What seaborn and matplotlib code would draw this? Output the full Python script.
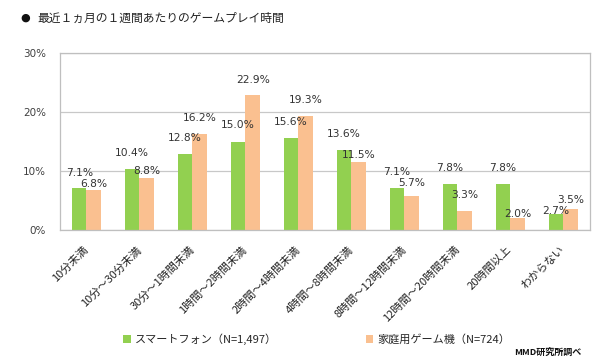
import matplotlib
matplotlib.use("Agg")
import matplotlib.pyplot as plt
import seaborn as sns
import pandas as pd
from matplotlib.patches import Patch

categories = ["10分未満", "10分～30分未満", "30分～1時間未満", "1時間～2時間未満",
              "2時間～4時間未満", "4時間～8時間未満", "8時間～12時間未満",
              "12時間～20時間未満", "20時間以上", "わからない"]
smartphone = [7.1, 10.4, 12.8, 15.0, 15.6, 13.6, 7.1, 7.8, 7.8, 2.7]
console = [6.8, 8.8, 16.2, 22.9, 19.3, 11.5, 5.7, 3.3, 2.0, 3.5]
series_names = ["スマートフォン（N=1,497）", "家庭用ゲーム機（N=724）"]
y_ticks = [0, 10, 20, 30]
title = "最近１ヵ月の１週間あたりのゲームプレイ時間"
source = "MMD研究所調べ"

# label offsets above bar top (pixels) - styling only
green_off = [15, 16, 16, 16, 16, 16, 16, 16, 16, 3]
orange_off = [6, 7, 16, 15, 16, 7, 13, 16, 4, 9]

df = pd.DataFrame({
    "cat": categories * 2,
    "val": smartphone + console,
    "series": [series_names[0]] * len(categories) + [series_names[1]] * len(categories),
})

sns.set_theme(style="white")
JP = ["Noto Sans CJK JP", "DejaVu Sans"]
plt.rcParams["font.family"] = JP

colors = ["#92D050", "#FAC090"]
fig = plt.figure(figsize=(6, 3.6), dpi=100)
ax = fig.add_axes([0.1, 1 - 230 / 360, 0.883, (230 - 53) / 360])

sns.barplot(data=df, x="cat", y="val", hue="series", hue_order=series_names,
            palette=colors, width=0.55, ax=ax, legend=False, saturation=1,
            linewidth=0, edgecolor="none")

ax.set_ylim(0, 30)
ax.set_xlim(-0.5, len(categories) - 0.5)
ax.set_yticks(y_ticks)
ax.set_yticklabels([f"{t}%" for t in y_ticks], family="DejaVu Sans", fontsize=7.5, color="#404040")
ax.yaxis.grid(True, color="#C8C8C8", linewidth=0.9)
ax.set_axisbelow(True)
ax.set_xlabel("")
ax.set_ylabel("")
for s in ax.spines.values():
    s.set_visible(True)
    s.set_color("#BFBFBF")
    s.set_linewidth(0.9)
ax.tick_params(axis="both", length=0)
ax.tick_params(axis="y", pad=10)
ax.tick_params(axis="x", pad=13)
ax.set_xticks(range(len(categories)))
ax.set_xticklabels(categories, rotation=45, ha="right", va="center",
                   rotation_mode="anchor", fontsize=8, color="#222222")

for cont, offs in zip(ax.containers, [green_off, orange_off]):
    for bar, off in zip(cont, offs):
        x = bar.get_x() + bar.get_width() / 2
        h = bar.get_height()
        ax.annotate(f"{h:.1f}%", (x, h), xytext=(0, off * 0.72), textcoords="offset points",
                    ha="center", va="center", fontsize=7.7, color="#333333",
                    family="DejaVu Sans")

fig.text(20 / 600, 1 - 18 / 360, "●", fontsize=8, va="center", ha="left", color="#111111",
         family=["DejaVu Sans"])
fig.text(37 / 600, 1 - 18 / 360, title, fontsize=8.5, va="center", ha="left", color="#222222")

handles = [Patch(facecolor=c, edgecolor="none") for c in colors]
fig.legend(handles, series_names, loc="center left", bbox_to_anchor=(123 / 600, 1 - 339 / 360),
           ncol=2, frameon=False, fontsize=8, handlelength=0.7, handleheight=0.7,
           handletextpad=0.35, columnspacing=8.0, borderpad=0, borderaxespad=0)

fig.text(581 / 600, 1 - 352 / 360, source, fontsize=6.5, fontweight="bold",
         ha="right", va="center", color="#111111")

fig.savefig("out.png", dpi=100)
